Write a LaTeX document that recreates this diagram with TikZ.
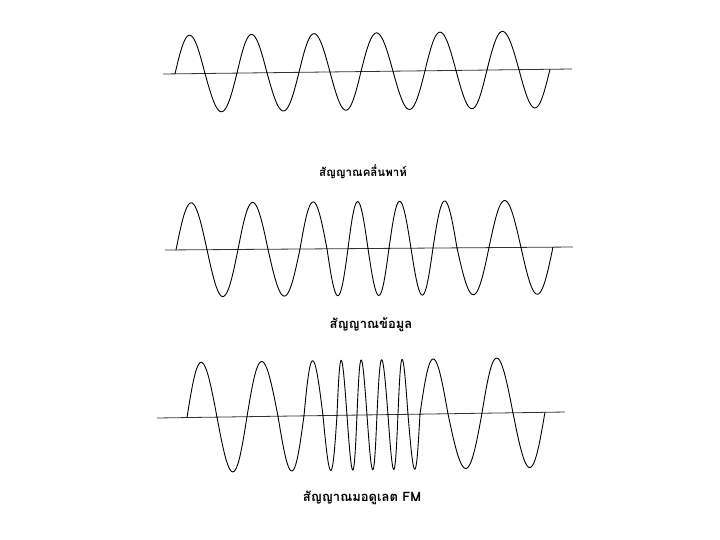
\documentclass[tikz,border=0pt]{standalone}
\usepackage{fontspec}
\newfontfamily\thaifont[Script=Thai]{Loma}
\tikzset{
  wave/.style={black, line width=0.9pt, line cap=round, line join=round},
  axisline/.style={black!80, line width=0.8pt},
  lbl/.style={font=\thaifont\bfseries\fontsize{11.5}{13}\selectfont, inner sep=0pt},
  lblbig/.style={font=\thaifont\bfseries\fontsize{13}{15}\selectfont, inner sep=0pt}
}
\newcommand{\halfcycles}[2]{%
  \foreach \a/\b/\s in {#2} {%
    \draw[wave] plot[domain=\a:\b, samples=25, smooth, variable=\t]
      (\t, {-\s*#1*sin(180*(\t-\a)/(\b-\a))});
  }%
}
\begin{document}
\begin{tikzpicture}[x=1pt, y=-1pt]
\useasboundingbox[fill=white] (0,0) rectangle (720,540);

% ---- carrier wave ----
\begin{scope}[rotate around={0.7:(163,74)}, shift={(0,74)}]
  \draw[axisline] (163,0) -- (572,0);
  \halfcycles{38.5}{175/205/1, 205/237/-1, 237/267/1, 267/299/-1, 299/330/1, 330/361/-1,
    361/393/1, 393/425/-1, 425/456/1, 456/487/-1, 487/519/1, 519/550/-1}
\end{scope}
\node[lbl] (l1) at (363,172) {สัญญาณคลื่นพาห์};

% ---- data signal ----
\begin{scope}[rotate around={0.42:(165,250)}, shift={(0,250)}]
  \draw[axisline] (165,0) -- (573,0);
  \halfcycles{47}{176/207/1, 207/238/-1, 238/268/1, 268/300/-1, 300/327/1, 327/348/-1,
    348/368/1, 368/389/-1, 389/411/1, 411/433/-1, 433/457/1, 457/489/-1, 489/521/1, 521/553/-1}
\end{scope}
\node[lblbig] (l2) at (371,325) {สัญญาณข้อมูล};

% ---- FM modulated ----
\begin{scope}[rotate around={0.84:(157,418)}, shift={(0,418)}]
  \draw[axisline] (157,0) -- (565,0);
  \halfcycles{55}{187/217/1, 217/247/-1, 247/278/1, 278/304/-1, 304/323/1, 323/337/-1,
    337/347/1, 347/357/-1, 357/367/1, 367/377/-1, 377/388/1, 388/398/-1, 398/408/1,
    408/420/-1, 420/448/1, 448/482/-1, 482/513/1, 513/545/-1}
\end{scope}
\node[lblbig] (l3) at (362,498) {สัญญาณมอดูเลต FM};
\end{tikzpicture}
\end{document}
